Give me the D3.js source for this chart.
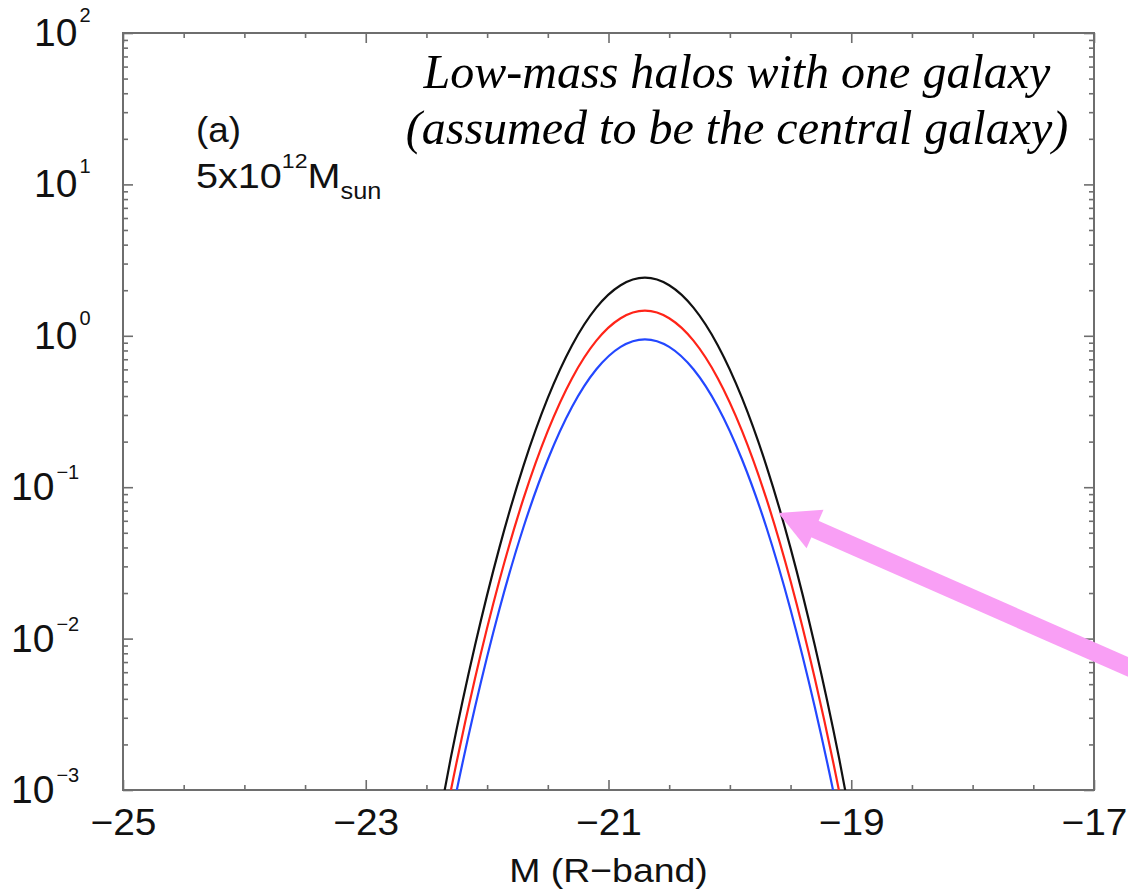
<!DOCTYPE html>
<html>
<head>
<meta charset="utf-8">
<script src="https://cdn.jsdelivr.net/npm/d3@7"></script>
<style>
  html, body { margin: 0; padding: 0; background: #fff; }
  svg { display: block; }
</style>
</head>
<body>
<svg id="chart" width="1128" height="889"></svg>
<script>
// ---------- data ----------
const magnitudes = [-22.5, -22.3, -22.1, -21.9, -21.7, -21.5, -21.3, -21.1, -20.9, -20.7,
                    -20.5, -20.3, -20.1, -19.9, -19.7, -19.5, -19.3, -19.1, -18.9];
const blackValues = [0.000232, 0.00162, 0.0090, 0.0396, 0.139, 0.389, 0.867, 1.535, 2.158, 2.421,
                     2.158, 1.535, 0.867, 0.389, 0.139, 0.0396, 0.0090, 0.00162, 0.000232];
const redValues   = [0.000141, 0.000982, 0.00545, 0.0240, 0.0843, 0.2355, 0.525, 0.929, 1.306, 1.466,
                     1.306, 0.929, 0.525, 0.2355, 0.0843, 0.0240, 0.00545, 0.000982, 0.000141];
const blueValues  = [0.000091, 0.000635, 0.00352, 0.01552, 0.0546, 0.1524, 0.340, 0.601, 0.845, 0.948,
                     0.845, 0.601, 0.340, 0.1524, 0.0546, 0.01552, 0.00352, 0.000635, 0.000091];
const seriesColors = ["#111111", "#ff2418", "#2347ff"];

const xMajorTicks = [-25, -23, -21, -19, -17];
const xTickLabels = ["\u221225", "\u221223", "\u221221", "\u221219", "\u221217"];
const yExponents = [-3, -2, -1, 0, 1, 2];
const yExpLabels = ["\u22123", "\u22122", "\u22121", "0", "1", "2"];
const xLabel = "M (R\u2212band)";
const titleLines = ["Low-mass halos with one galaxy", "(assumed to be the central galaxy)"];
const panelLabel = "(a)";
// arrow annotation in data coordinates: [M, value]
const arrowTail = [-16.62, 0.006];
const arrowTip = [-19.6, 0.0676];

// ---------- layout ----------
const W = 1128, H = 889;
const L = 123, R = 1094, T = 33, B = 790;
const svg = d3.select("#chart");
const axisColor = "#6e6e6e";
const sans = "'Liberation Sans', Arial, Helvetica, sans-serif";

const x = d3.scaleLinear().domain([-25, -17]).range([L, R]);
const y = d3.scaleLog().domain([1e-3, 1e2]).range([B, T]);

svg.append("rect").attr("width", W).attr("height", H).attr("fill", "#fff");

svg.append("defs").append("clipPath").attr("id", "plotclip")
  .append("rect").attr("x", L).attr("y", T).attr("width", R - L).attr("height", B - T);

// ---------- ticks ----------
const xMinor = d3.range(-25, -16.99, 0.5).filter(v => !xMajorTicks.some(m => Math.abs(m - v) < 1e-6));
const yMajor = yExponents.map(e => Math.pow(10, e));
const yMinor = [];
for (let e = -3; e < 2; e++) for (let k = 2; k <= 9; k++) yMinor.push(k * Math.pow(10, e));

function styleAxis(g) {
  g.select(".domain").remove();
  g.selectAll(".tick line").attr("stroke", axisColor).attr("stroke-width", 1.6);
}

svg.append("g").attr("transform", `translate(0,${B})`)
  .call(d3.axisBottom(x).tickValues(xMinor).tickSize(-5).tickFormat(""))
  .call(styleAxis);
const bottomMajor = svg.append("g").attr("transform", `translate(0,${B})`)
  .call(d3.axisBottom(x).tickValues(xMajorTicks).tickSize(-10).tickPadding(0)
        .tickFormat((d, i) => xTickLabels[i]))
  .call(styleAxis);
bottomMajor.selectAll(".tick text")
  .attr("font-family", sans).attr("font-size", 37).attr("fill", "#111")
  .attr("dy", null).attr("y", 45)
  .attr("transform", "scale(1.05,1)");
svg.append("g").attr("transform", `translate(0,${T})`)
  .call(d3.axisTop(x).tickValues(xMinor).tickSize(-5).tickFormat(""))
  .call(styleAxis);
svg.append("g").attr("transform", `translate(0,${T})`)
  .call(d3.axisTop(x).tickValues(xMajorTicks).tickSize(-10).tickFormat(""))
  .call(styleAxis);
svg.append("g").attr("transform", `translate(${L},0)`)
  .call(d3.axisLeft(y).tickValues(yMinor).tickSize(-5).tickFormat(""))
  .call(styleAxis);
svg.append("g").attr("transform", `translate(${L},0)`)
  .call(d3.axisLeft(y).tickValues(yMajor).tickSize(-10).tickFormat(""))
  .call(styleAxis);
svg.append("g").attr("transform", `translate(${R},0)`)
  .call(d3.axisRight(y).tickValues(yMinor).tickSize(-5).tickFormat(""))
  .call(styleAxis);
svg.append("g").attr("transform", `translate(${R},0)`)
  .call(d3.axisRight(y).tickValues(yMajor).tickSize(-10).tickFormat(""))
  .call(styleAxis);

svg.append("rect").attr("x", L).attr("y", T).attr("width", R - L).attr("height", B - T)
  .attr("fill", "none").attr("stroke", axisColor).attr("stroke-width", 2);

// y tick labels 10^n
const yl = svg.append("g").attr("font-family", sans).attr("fill", "#111");
yExponents.forEach((e, i) => {
  const t = yl.append("text")
    .attr("x", e < 0 ? 11 : 34)
    .attr("y", y(Math.pow(10, e)) + 13)
    .attr("font-size", 39);
  t.append("tspan").text("10");
  t.append("tspan").attr("font-size", 20).attr("dx", 2).attr("dy", e < 0 ? -21 : -24).text(yExpLabels[i]);
});

// x axis label
svg.append("text")
  .attr("transform", `translate(${(L + R) / 2},882) scale(1.1,1)`)
  .attr("text-anchor", "middle")
  .attr("font-family", sans).attr("font-size", 34).attr("fill", "#111")
  .text(xLabel);

// ---------- curves ----------
const line = d3.line()
  .x((d, i) => x(magnitudes[i]))
  .y(d => y(d))
  .curve(d3.curveNatural);
const plot = svg.append("g").attr("clip-path", "url(#plotclip)");
[blackValues, redValues, blueValues].forEach((vals, k) => {
  plot.append("path").datum(vals)
    .attr("d", line)
    .attr("fill", "none")
    .attr("stroke", seriesColors[k])
    .attr("stroke-width", 2.2);
});

// ---------- annotations ----------
svg.append("text")
  .attr("transform", "translate(196,142) scale(1.05,1)")
  .attr("font-family", sans).attr("font-size", 35).attr("fill", "#111")
  .text(panelLabel);
const mt = svg.append("text")
  .attr("transform", "translate(196,188) scale(1.1,1)")
  .attr("font-family", sans).attr("font-size", 36).attr("fill", "#111");
mt.append("tspan").text("5x10");
mt.append("tspan").attr("font-size", 21).attr("dy", -20).text("12");
mt.append("tspan").attr("dy", 20).text("M");
mt.append("tspan").attr("font-size", 23).attr("dy", 11).text("sun");

// title
const title = svg.append("g")
  .attr("font-family", "'Liberation Serif', 'Times New Roman', Times, serif")
  .attr("font-style", "italic").attr("font-size", 49).attr("fill", "#000")
  .attr("text-anchor", "middle");
title.append("text").attr("transform", "translate(737,88) scale(0.98,1)").text(titleLines[0]);
title.append("text").attr("transform", "translate(737,144) scale(0.98,1)").text(titleLines[1]);

// pink arrow
const arrowColor = "#f99ff5";
const tx = x(arrowTip[0]), ty = y(arrowTip[1]);
const sx = x(arrowTail[0]), sy = y(arrowTail[1]);
const ang = Math.atan2(ty - sy, tx - sx);
const headLen = 40, headHalf = 21;
const bx = tx - headLen * Math.cos(ang), by = ty - headLen * Math.sin(ang);
svg.append("line")
  .attr("x1", sx).attr("y1", sy).attr("x2", bx + 4 * Math.cos(ang)).attr("y2", by + 4 * Math.sin(ang))
  .attr("stroke", arrowColor).attr("stroke-width", 18);
svg.append("polygon")
  .attr("points", [
    [tx, ty],
    [bx + headHalf * Math.sin(ang), by - headHalf * Math.cos(ang)],
    [bx - headHalf * Math.sin(ang), by + headHalf * Math.cos(ang)]
  ].map(p => p.join(",")).join(" "))
  .attr("fill", arrowColor);
</script>
</body>
</html>
